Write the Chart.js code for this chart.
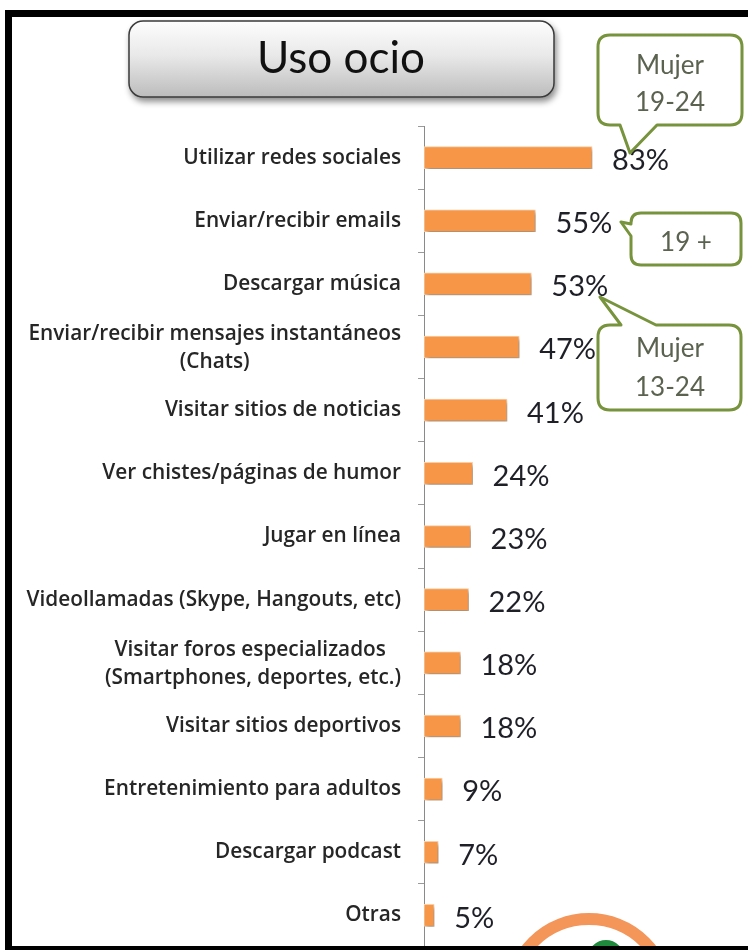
<!DOCTYPE html>
<html>
<head>
<meta charset="utf-8">
<script src="https://cdn.jsdelivr.net/npm/chart.js@4.4.1/dist/chart.umd.min.js"></script>
<style>
  html, body { margin: 0; padding: 0; background: #fff; }
  #wrap { position: relative; width: 748px; height: 950px; overflow: hidden; }
  #wrap canvas, #wrap svg { position: absolute; left: 0; top: 0; }
</style>
</head>
<body>
<div id="wrap">
  <canvas id="usoChart" width="748" height="950"></canvas>
  <svg width="748" height="950" viewBox="0 0 748 950">
    <defs>
      <linearGradient id="titleGrad" x1="0" y1="0" x2="0" y2="1">
        <stop offset="0" stop-color="#fdfdfd"/>
        <stop offset="0.45" stop-color="#e9e9e9"/>
        <stop offset="1" stop-color="#bcbcbc"/>
      </linearGradient>
      <filter id="sombra" x="-10%" y="-10%" width="130%" height="150%">
        <feDropShadow dx="2" dy="4" stdDeviation="3" flood-color="#000" flood-opacity="0.45"/>
      </filter>
    </defs>

    <!-- titulo -->
    <rect x="129" y="21" width="425" height="76" rx="14" fill="url(#titleGrad)" stroke="#3a3a3a" stroke-width="1.5" filter="url(#sombra)"/>
    <text x="341" y="73" text-anchor="middle" font-family="Lato" font-size="44" fill="#111">Uso ocio</text>

    <!-- globos -->
    <g fill="#fff" stroke="#77933C" stroke-width="3" stroke-linejoin="round">
      <path d="M610,35 H730 Q742,35 742,47 V113 Q742,125 730,125 H657 L630,153 L620,125 H610 Q598,125 598,113 V47 Q598,35 610,35 Z"/>
      <path d="M641,213 H731 Q741,213 741,223 V255 Q741,265 731,265 H641 Q631,265 631,255 V236 L621,222 L631,224 V223 Q631,213 641,213 Z"/>
      <path d="M610,325 H621 L600,297 L656,325 H729 Q741,325 741,337 V398 Q741,410 729,410 H610 Q598,410 598,398 V337 Q598,325 610,325 Z"/>
    </g>
    <g font-family="Lato" font-size="26" fill="#5b6350" text-anchor="middle">
      <text x="670" y="74">Mujer</text>
      <text x="670" y="111">19-24</text>
      <text x="686" y="251">19 +</text>
      <text x="670" y="357">Mujer</text>
      <text x="670" y="396">13-24</text>
    </g>

    <!-- aro inferior -->
    <circle cx="606" cy="958" r="18" fill="#1f8a3c"/>
    <circle cx="589" cy="998" r="79" fill="none" stroke="#F4955A" stroke-width="12"/>

    <!-- marco -->
    <rect x="5" y="10" width="743" height="7" fill="#000"/>
    <rect x="5" y="10" width="7" height="940" fill="#000"/>
    <rect x="5" y="946" width="743" height="4" fill="#000"/>
  </svg>
</div>
<script>
// datos
const categorias = [
  'Utilizar redes sociales',
  'Enviar/recibir emails',
  'Descargar música',
  ['Enviar/recibir mensajes instantáneos', '(Chats)'],
  'Visitar sitios de noticias',
  'Ver chistes/páginas de humor',
  'Jugar en línea',
  'Videollamadas (Skype, Hangouts, etc)',
  ['Visitar foros especializados ', '(Smartphones, deportes, etc.)'],
  'Visitar sitios deportivos',
  'Entretenimiento para adultos',
  'Descargar podcast',
  'Otras'
];
const porcentajes = [83, 55, 53, 47, 41, 24, 23, 22, 18, 18, 9, 7, 5];

// sombra suave bajo las barras
const sombraBarras = {
  id: 'sombraBarras',
  beforeDatasetsDraw(chart) {
    const c = chart.ctx;
    c.save();
    c.shadowColor = 'rgba(0,0,0,0.35)';
    c.shadowOffsetX = 2;
    c.shadowOffsetY = 3;
    c.shadowBlur = 4;
  },
  afterDatasetsDraw(chart) {
    chart.ctx.restore();
  }
};

// etiquetas de categoria y de valor
const etiquetas = {
  id: 'etiquetas',
  afterDraw(chart) {
    const c = chart.ctx;
    const y = chart.scales.y;
    const meta = chart.getDatasetMeta(0);
    c.save();

    // categorias (bloque alineado a la derecha, lineas centradas)
    c.font = '600 20.8px "Open Sans"';
    c.fillStyle = '#262626';
    c.textBaseline = 'middle';
    const derecha = 401;
    const interlinea = 28;
    categorias.forEach((lab, i) => {
      const cy = y.getPixelForValue(i);
      if (Array.isArray(lab)) {
        const ancho = Math.max(...lab.map(l => c.measureText(l).width));
        const cx = derecha - ancho / 2;
        c.textAlign = 'center';
        lab.forEach((l, k) => {
          c.fillText(l, cx, cy + (k - (lab.length - 1) / 2) * interlinea + 1);
        });
      } else {
        c.textAlign = 'right';
        c.fillText(lab, derecha, cy);
      }
    });

    // valores
    c.font = '29px Lato';
    c.fillStyle = '#1f1f28';
    c.textAlign = 'left';
    meta.data.forEach((bar, i) => {
      c.fillText(porcentajes[i] + '%', bar.x + 20, bar.y + 3);
    });
    c.restore();
  }
};

new Chart(document.getElementById('usoChart'), {
  type: 'bar',
  data: {
    labels: categorias,
    datasets: [{
      data: porcentajes,
      backgroundColor: '#F79646',
      borderColor: '#fcd2ad',
      borderWidth: 1,
      borderSkipped: false,
      barThickness: 22
    }]
  },
  options: {
    indexAxis: 'y',
    responsive: false,
    animation: false,
    layout: { padding: { left: 418, top: 126, right: 0, bottom: 3 } },
    plugins: {
      legend: { display: false },
      tooltip: { enabled: false }
    },
    scales: {
      x: { display: false, min: 0, max: 160 },
      y: {
        ticks: { display: false },
        grid: { drawOnChartArea: false, tickLength: 6, color: '#9a9a9a', offset: true },
        border: { color: '#8a8a8a', width: 1 }
      }
    }
  },
  plugins: [sombraBarras, etiquetas]
});
</script>
</body>
</html>
